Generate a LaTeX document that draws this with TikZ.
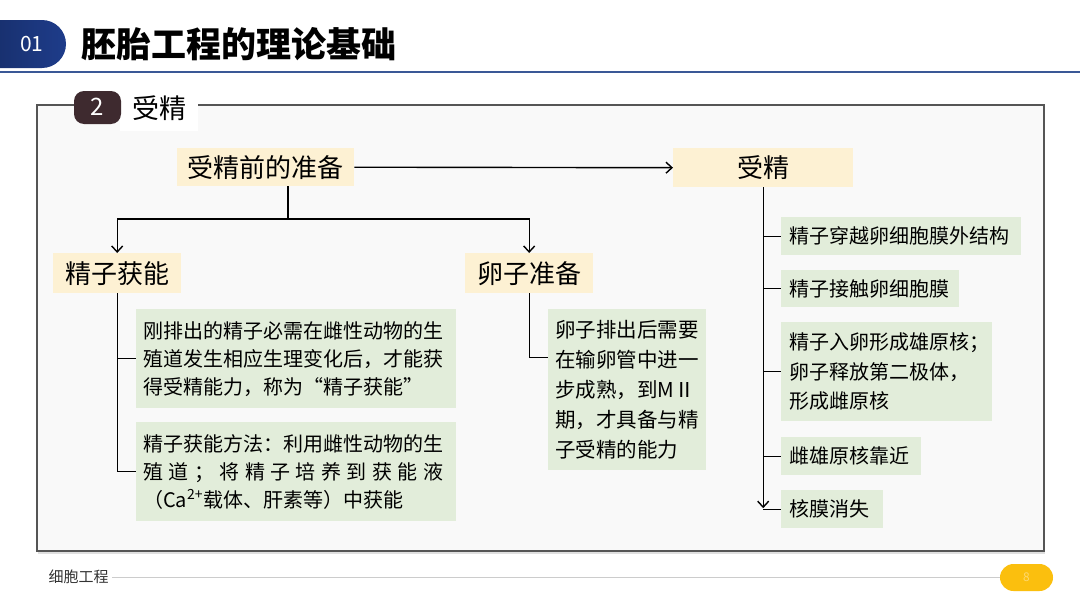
\documentclass[tikz,border=0pt]{standalone}
\usepackage{fontspec}
\setmainfont{Noto Sans CJK SC}
\usetikzlibrary{arrows.meta,calc,shadows}
\definecolor{ybox}{HTML}{FDF1D3}
\definecolor{gbox}{HTML}{E2EDDA}
\definecolor{tabblue}{HTML}{1E3C8A}
\definecolor{lineblue}{HTML}{3A5896}
\definecolor{darkbrown}{HTML}{3E2A2F}
\definecolor{framegray}{HTML}{555555}
\definecolor{pagebg}{HTML}{F9F9F9}
\definecolor{gold}{HTML}{FBBF0E}
\tikzset{
  ybx/.style={fill=ybox, anchor=north west, inner sep=0pt, align=center, font=\fontsize{26}{30}\selectfont},
  gbx/.style={fill=gbox, anchor=north west, inner ysep=0pt, inner xsep=7pt, align=left, font=\fontsize{20}{28}\selectfont},
  conn/.style={line width=1.4pt, black},
  arr/.style={conn, -{Straight Barb[length=6pt,width=11pt,line width=1.4pt]}},
}
\begin{document}
\begin{tikzpicture}[x=1pt,y=-1pt]
\useasboundingbox (0,0) rectangle (1080,608);
\fill[white] (0,0) rectangle (1080,608);
% header
\shade[left color=tabblue!70!black, right color=tabblue, rounded corners=24pt] (-40,20) rectangle (66,68);
\node[text=white, font=\fontsize{21}{24}\selectfont] (num) at (32,44) {01};
\node[anchor=west, font=\fontsize{35}{40}\selectfont\bfseries] (title) at (78,44) {胚胎工程的理论基础};
\draw[lineblue, line width=2.5pt] (0,72) -- (1080,72);
% frame
\draw[framegray, line width=2.5pt, fill=pagebg, drop shadow={opacity=0.25, shadow xshift=1pt, shadow yshift=-3pt}] (37,105) rectangle (1044,551);
\fill[white] (120,92) rectangle (198,131);
\fill[darkbrown, rounded corners=10pt] (74,91) rectangle (121,124);
\node[text=white, font=\fontsize{24}{28}\selectfont] (two) at (97.5,107) {2};
\node[font=\fontsize{27}{30}\selectfont] (lbl) at (159,108) {受精};
% top level
\node[ybx, minimum width=177pt, minimum height=38pt] (pre) at (177,148) {受精前的准备};
\node[ybx, minimum width=180pt, minimum height=39pt] (sj) at (673,148) {受精};
\draw[arr] (pre.east) -- (sj.west);
% second level
\node[ybx, minimum width=128pt, minimum height=40pt] (jz) at (53,253) {精子获能};
\node[ybx, minimum width=128pt, minimum height=40pt] (lz) at (465,253) {卵子准备};
\coordinate (split) at (288,219);
\draw[conn] (split |- pre.south) -- (split);
\draw[arr] (split) -| (jz.north);
\draw[arr] (split) -| (lz.north);
% sperm capacitation boxes
\node[gbx, text width=306pt, minimum height=99pt] (g1) at (136,309)
  {刚排出的精子必需在雌性动物的生\\殖道发生相应生理变化后，才能获\\得受精能力，称为“精子获能”};
\node[gbx, text width=306pt, minimum height=99pt] (g2) at (136,422)
  {精子获能方法：利用雌性动物的生\\\makebox[300pt][s]{殖\hfill 道\hfill ；\hfill 将\hfill 精\hfill 子\hfill 培\hfill 养\hfill 到\hfill 获\hfill 能\hfill 液}\\（Ca\textsuperscript{2+}载体、肝素等）中获能};
\draw[conn] (jz.south) -- (jz.south |- g2.west) -- (g2.west);
\draw[conn] (jz.south |- g1.west) -- (g1.west);
% egg preparation box
\node[gbx, text width=144pt, minimum height=161pt, font=\fontsize{20.5}{30}\selectfont] (le) at (548,309)
  {卵子排出后需要\\在输卵管中进一\\步成熟，到MⅡ\\期，才具备与精\\子受精的能力};
\coordinate (lebr) at ($(le.north west)!0.3!(le.south west)$);
\draw[conn] (lz.south) |- (lebr);
% fertilization steps
\node[gbx, inner xsep=8pt, text width=224pt, minimum height=38pt] (r1) at (781,217) {精子穿越卵细胞膜外结构};
\node[gbx, inner xsep=8pt, text width=162pt, minimum height=37pt] (r2) at (781,270) {精子接触卵细胞膜};
\node[gbx, inner xsep=8pt, text width=195pt, minimum height=99pt, font=\fontsize{20}{29.5}\selectfont] (r3) at (781,322)
  {精子入卵形成雄原核；\\卵子释放第二极体，\\形成雌原核};
\node[gbx, inner xsep=8pt, text width=124pt, minimum height=38pt] (r4) at (781,437) {雌雄原核靠近};
\node[gbx, inner xsep=8pt, text width=86pt, minimum height=38pt] (r5) at (781,490) {核膜消失};
\coordinate (tr5) at (sj.south |- r5.west);
\draw[arr] (sj.south) -- ([yshift=1pt]tr5);
\draw[conn] (sj.south |- r1.west) -- (r1.west);
\draw[conn] (sj.south |- r2.west) -- (r2.west);
\draw[conn] (sj.south |- r3.west) -- (r3.west);
\draw[conn] (sj.south |- r4.west) -- (r4.west);
\draw[conn] (tr5) -- (r5.west);
% footer
\node[anchor=west, text=black!80, font=\fontsize{15}{18}\selectfont] (foot) at (45,577) {细胞工程};
\fill[gold, rounded corners=13.5pt] (1000,564) rectangle (1053,591);
\node[text=gold!60!white, font=\fontsize{12}{14}\selectfont] (pg) at (1026.5,577.5) {8};
\draw[black!20, line width=0.8pt] (foot.east) -- (1000,577);
\end{tikzpicture}
\end{document}
